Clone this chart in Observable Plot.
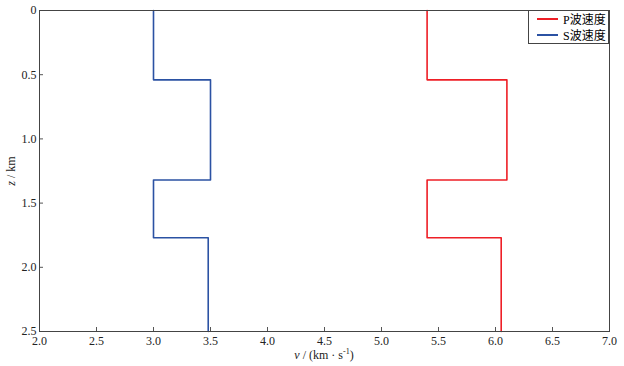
<!DOCTYPE html>
<html><head><meta charset="utf-8">
<script src="https://cdn.jsdelivr.net/npm/d3@7"></script>
<script src="https://cdn.jsdelivr.net/npm/@observablehq/plot@0.6"></script>
<style>
body{margin:0;background:#fff;}
#wrap{position:relative;width:624px;height:366px;font-family:"Liberation Serif","Noto Sans CJK SC",serif;}
#wrap svg text{font-family:"Liberation Serif","Noto Sans CJK SC",serif;}
#legend{position:absolute;left:528px;top:10px;width:81px;height:34px;border:1px solid #444;background:#fff;font-size:12px;box-sizing:border-box;}
.row{position:absolute;left:8px;display:flex;align-items:center;height:16px;white-space:nowrap;}
.sw{display:inline-block;width:21px;height:1.6px;margin-right:5px;}
</style></head>
<body><div id="wrap"><div id="legend"></div></div>
<script>
// Layer boundaries (depth, km)
const depthTops = [0, 0.54, 1.32, 1.77];
const depthBottom = 2.5;
// Velocities per layer (km/s)
const pVelocity = [5.4, 6.1, 5.4, 6.05];
const sVelocity = [3.0, 3.5, 3.0, 3.48];
const seriesNames = ["P波速度", "S波速度"];
const colors = ["#ee1f26", "#2b52a3"];
const xTicks = [2.0, 2.5, 3.0, 3.5, 4.0, 4.5, 5.0, 5.5, 6.0, 6.5, 7.0];
const yTicks = [0, 0.5, 1.0, 1.5, 2.0, 2.5];

function profile(name, vals) {
  const pts = [];
  vals.forEach((v, i) => {
    const bot = i + 1 < depthTops.length ? depthTops[i + 1] : depthBottom;
    pts.push({series: name, v, z: depthTops[i]});
    pts.push({series: name, v, z: bot});
  });
  return pts;
}
const data = [...profile(seriesNames[0], pVelocity), ...profile(seriesNames[1], sVelocity)];

const font = `"Liberation Serif","Noto Sans CJK SC",serif`;
const yFmt = d => d === 0 ? "0" : d3.format(".1f")(d);
const chart = Plot.plot({
  width: 624, height: 366,
  marginLeft: 39, marginRight: 15, marginTop: 10, marginBottom: 35,
  style: {fontFamily: font, fontSize: "12px", color: "#222", background: "#fff"},
  x: {domain: [2, 7], label: null},
  y: {domain: [0, 2.5], reverse: true, label: null},
  color: {domain: seriesNames, range: colors},
  marks: [
    Plot.axisX({ticks: xTicks, tickSize: 0, tickPadding: 5, tickFormat: d3.format(".1f"), fontSize: 12, fontFamily: font}),
    Plot.axisY({ticks: yTicks, tickSize: 0, tickPadding: 3, tickFormat: yFmt, fontSize: 12, fontFamily: font}),
    Plot.tickX(xTicks, {x: d => d, insetTop: 317, stroke: "#555", strokeWidth: 1}),
    Plot.tickY(yTicks, {y: d => d, insetRight: 566, stroke: "#555", strokeWidth: 1}),
    Plot.line(data, {x: "v", y: "z", z: "series", stroke: "series", strokeWidth: 1.6}),
    Plot.frame({stroke: "#444", strokeWidth: 1})
  ]
});
document.getElementById("wrap").prepend(chart);

const svg = d3.select(chart);
const yl = svg.append("text").attr("transform", "translate(15,171) rotate(-90)")
  .attr("text-anchor", "middle").attr("font-size", 12).attr("fill", "#222");
yl.append("tspan").attr("font-style", "italic").text("z");
yl.append("tspan").text(" / km");
const xl = svg.append("text").attr("x", 324).attr("y", 359)
  .attr("text-anchor", "middle").attr("font-size", 12).attr("fill", "#222");
xl.append("tspan").attr("font-style", "italic").text("v");
xl.append("tspan").text(" / (km · s");
xl.append("tspan").attr("font-size", 8).attr("dy", -5).text("-1");
xl.append("tspan").attr("dy", 5).text(")");

const leg = document.getElementById("legend");
seriesNames.forEach((n, i) => {
  const r = document.createElement("div");
  r.className = "row"; r.style.top = (i * 16) + "px";
  r.innerHTML = `<span class="sw" style="background:${colors[i]}"></span><span>${n}</span>`;
  leg.appendChild(r);
});
</script></body></html>
